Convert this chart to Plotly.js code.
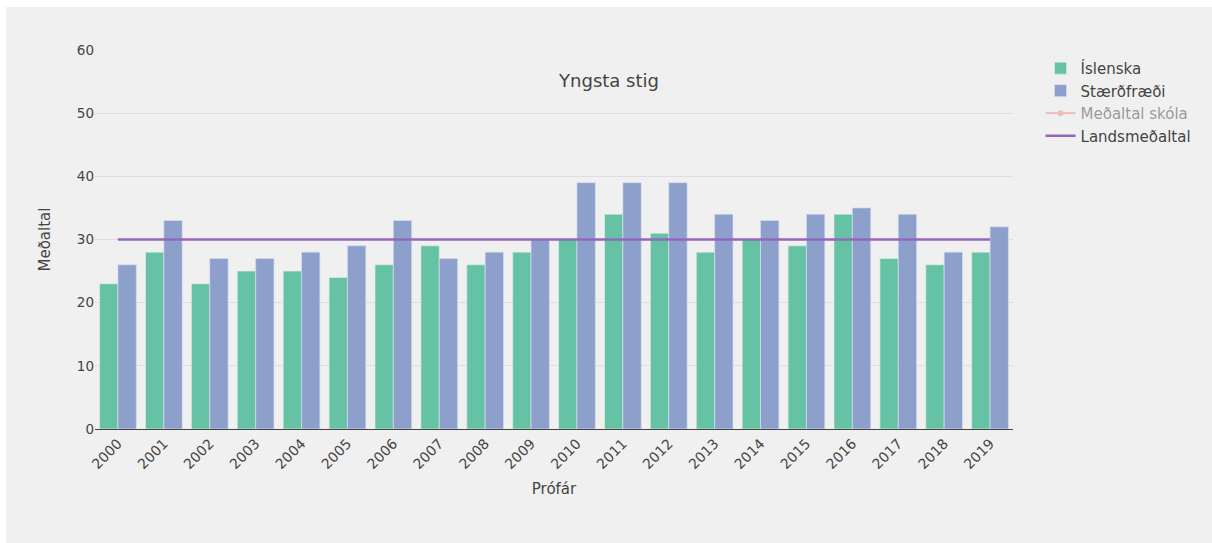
<!DOCTYPE html>
<html>
<head>
<meta charset="utf-8">
<script src="https://cdn.plot.ly/plotly-3.0.1.min.js"></script>
<style>
html,body{margin:0;padding:0;background:#fff;}
#chart{position:absolute;left:6px;top:7px;width:1206px;height:536px;}
</style>
</head>
<body>
<div id="chart"></div>
<script>
const years = ['2000','2001','2002','2003','2004','2005','2006','2007','2008','2009','2010','2011','2012','2013','2014','2015','2016','2017','2018','2019'];
const islenska = [23,28,23,25,25,24,26,29,26,28,30,34,31,28,30,29,34,27,26,28];
const staerdfraedi = [26,33,27,27,28,29,33,27,28,30,39,39,39,34,33,34,35,34,28,32];
const medaltalSkola = [26,31,25,26,27,27,30,28,27,29,35,37,35,31,32,32,35,31,27,30];
const landsmedaltal = [30,30,30,30,30,30,30,30,30,30,30,30,30,30,30,30,30,30,30,30];

const traces = [
  {type:'bar', name:'Íslenska', x:years, y:islenska,
   marker:{color:'#66c2a5', line:{color:'rgba(220,235,230,0.7)', width:1}}},
  {type:'bar', name:'Stærðfræði', x:years, y:staerdfraedi,
   marker:{color:'#8da0cb', line:{color:'rgba(215,220,240,0.7)', width:1}}},
  {type:'scatter', mode:'lines+markers', name:'Meðaltal skóla', x:years, y:medaltalSkola,
   line:{color:'#e78a8a', width:2}, marker:{color:'#e78a8a', size:6}, visible:'legendonly'},
  {type:'scatter', mode:'lines', name:'Landsmeðaltal', x:years, y:landsmedaltal,
   line:{color:'#9467bd', width:2.5}}
];

const layout = {
  width:1206, height:536,
  paper_bgcolor:'#f0f0f0', plot_bgcolor:'#f0f0f0',
  font:{family:'DejaVu Sans, Verdana, sans-serif', size:13, color:'#444'},
  margin:{l:89, r:199, t:43, b:114},
  title:{text:'Yngsta stig', x:0.5, xref:'container', y:0.862, yanchor:'middle', font:{size:18, color:'#444'}},
  barmode:'group', bargap:0.2, bargroupgap:0,
  xaxis:{title:{text:'Prófár', font:{size:15}, standoff:12}, tickangle:-45, showline:true, linecolor:'#444', linewidth:1,
         showgrid:false, type:'category', tickfont:{size:14}},
  yaxis:{title:{text:'Meðaltal', font:{size:15}, standoff:22}, range:[0,60], dtick:10, gridcolor:'#dedede',
         zeroline:false, tickfont:{size:13.5}},
  legend:{x:1.03, y:0.995, yanchor:'top', font:{size:15}, bgcolor:'rgba(0,0,0,0)'}
};

Plotly.newPlot('chart', traces, layout, {displayModeBar:false});
</script>
</body>
</html>
